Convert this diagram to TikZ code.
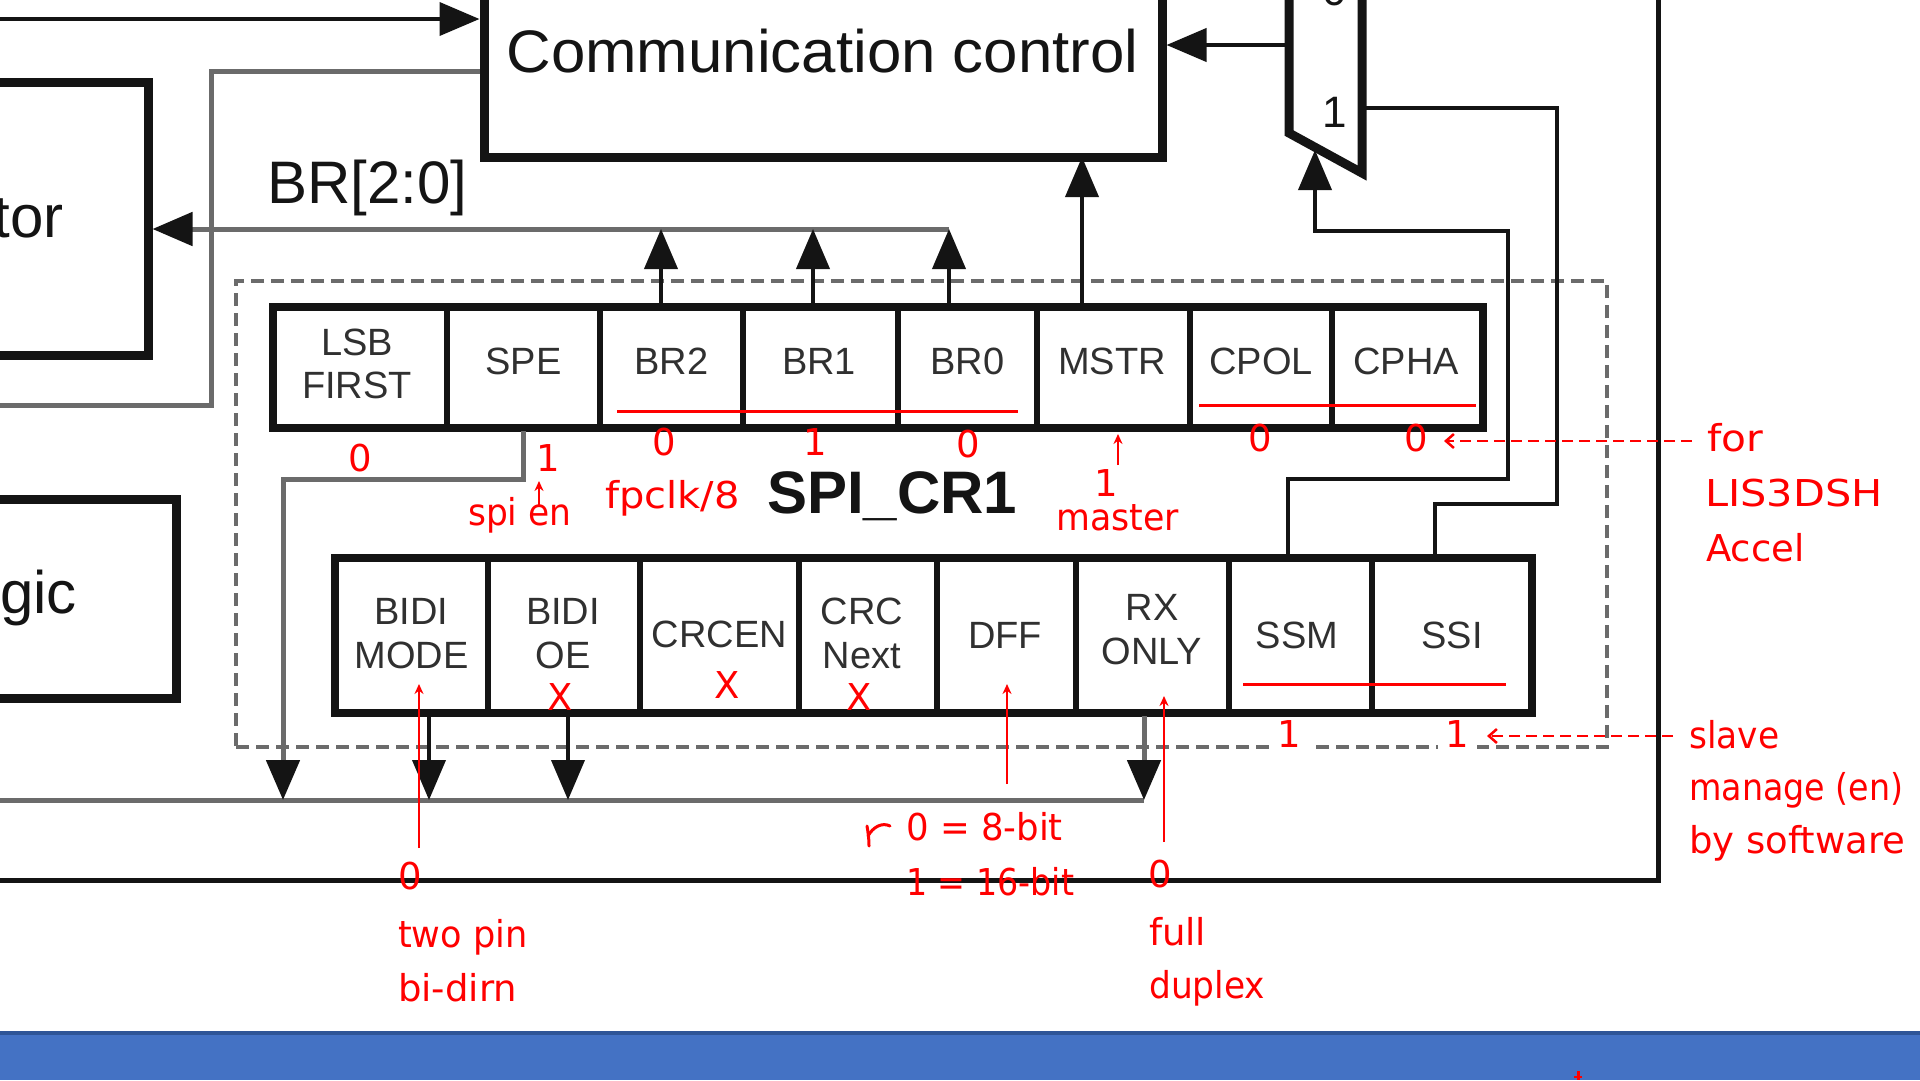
\documentclass[tikz,border=0pt]{standalone}
\usepackage{fontspec}
\setmainfont{Liberation Sans}
\newfontfamily\redfont{DejaVu Sans}
\usetikzlibrary{arrows.meta,calc}
\definecolor{lgray}{HTML}{6B6B6B}
\definecolor{ink}{HTML}{141414}
\definecolor{annot}{HTML}{FF0000}
\definecolor{barblue}{HTML}{4472C4}
\definecolor{barline}{HTML}{2F5597}
\newcommand\hsq[2]{\scalebox{#1}[1]{#2}}
\begin{document}
\begin{tikzpicture}[x=1pt,y=-1pt,
  blk/.style={draw=ink, line width=9pt, inner sep=0pt},
  wire/.style={draw=ink, line width=4pt},
  gwire/.style={draw=lgray, line width=5pt},
  tip/.style={-{Triangle[length=40pt,width=33pt]}},
  tipk/.style={-{Triangle[length=40pt,width=33pt,color=ink]}},
  cell/.style={draw=ink, line width=6pt, inner sep=0pt, minimum height=#1},
  lab/.style={font=\fontsize{38pt}{43.5pt}\selectfont, text=ink!88, align=center, inner sep=0pt},
  big/.style={font=\fontsize{60pt}{72pt}\selectfont, text=ink, inner sep=0pt},
  rtext/.style={font=\redfont\fontsize{37pt}{44pt}\selectfont, text=annot, inner sep=0pt},
  rline/.style={draw=annot, line width=3pt},
  rarrow/.style={draw=annot, line width=2.5pt, -{Stealth[length=10pt,width=9pt]}},
  rdash/.style={draw=annot, line width=2.5pt, dash pattern=on 11pt off 6pt, -{Straight Barb[length=8pt,width=14pt]}},
  dashbox/.style={draw=lgray, line width=4.5pt, dash pattern=on 13pt off 7pt, inner sep=0pt},
]
\useasboundingbox (0,0) rectangle (1920,1080);
\clip (0,0) rectangle (1920,1080);
\fill[white] (0,0) rectangle (1920,1080);

% ---------- blocks ----------
\node[blk, minimum width=678pt, minimum height=300pt] (cc) at (823,7) {};
\node[big] (cctext) at (822.5,51.5) {\scalebox{1.03}[1]{Communication control}};
\node[blk, minimum width=300pt, minimum height=273pt] (clkbox) at (-2,218.5) {};
\node[big, anchor=base east] (clktext) at (64,237) {tor};
\node[blk, minimum width=300pt, minimum height=199pt] (logbox) at (26,598.5) {};
\node[big, anchor=base east] (logtext) at (77,613) {gic};
\node[big, anchor=base west] (brtext) at (267,203) {BR[2:0]};

% dashed register frame
\node[dashbox, minimum width=1371pt, minimum height=466pt] (frame) at (921.5,514) {};

% ---------- register SPI_CR1 upper row ----------
\node[cell=121pt, minimum width=174pt] (c1) at (360,367.5) {};
\node[cell=121pt, minimum width=153pt] (c2) at (523.5,367.5) {};
\node[cell=121pt, minimum width=143pt] (c3) at (671.5,367.5) {};
\node[cell=121pt, minimum width=155pt] (c4) at (820.5,367.5) {};
\node[cell=121pt, minimum width=139pt] (c5) at (967.5,367.5) {};
\node[cell=121pt, minimum width=153pt] (c6) at (1113.5,367.5) {};
\node[cell=121pt, minimum width=142pt] (c7) at (1261,367.5) {};
\node[cell=121pt, minimum width=151pt] (c8) at (1407.5,367.5) {};
\node[draw=ink, line width=8pt, inner sep=0pt, minimum width=1210pt, minimum height=121pt] (reg1) at (878,367.5) {};
\node[lab] (l1) at (357,364) {LSB\\FIRST};
\node[lab] (l2) at (523.5,361) {SPE};
\node[lab] (l3) at (671.5,361) {BR2};
\node[lab] (l4) at (819,361) {BR1};
\node[lab] (l5) at (967.5,361) {BR0};
\node[lab] (l6) at (1112,361) {MSTR};
\node[lab] (l7) at (1261,361) {CPOL};
\node[lab] (l8) at (1406,361) {CPHA};

% ---------- lower row ----------
\node[cell=155pt, minimum width=153pt] (d1) at (411.5,635.5) {};
\node[cell=155pt, minimum width=152pt] (d2) at (564,635.5) {};
\node[cell=155pt, minimum width=159pt] (d3) at (719.5,635.5) {};
\node[cell=155pt, minimum width=138pt] (d4) at (868,635.5) {};
\node[cell=155pt, minimum width=139pt] (d5) at (1006.5,635.5) {};
\node[cell=155pt, minimum width=153pt] (d6) at (1152.5,635.5) {};
\node[cell=155pt, minimum width=143pt] (d7) at (1300.5,635.5) {};
\node[cell=155pt, minimum width=160pt] (d8) at (1452,635.5) {};
\node[draw=ink, line width=8pt, inner sep=0pt, minimum width=1197pt, minimum height=155pt] (reg2) at (933.5,635.5) {};
\node[lab] (m1) at (411.5,633.5) {BIDI\\MODE};
\node[lab] (m2) at (563,633.5) {BIDI\\OE};
\node[lab] (m3) at (719.5,634.5) {CRCEN};
\node[lab] (m4) at (862,633.5) {CRC\\Next};
\node[lab] (m5) at (1005,635) {DFF};
\node[lab] (m6) at (1152,629.5) {RX\\ONLY};
\node[lab] (m7) at (1297,635) {SSM};
\node[lab] (m8) at (1452,635) {SSI};

\node[font=\bfseries\fontsize{60pt}{72pt}\selectfont, text=ink, inner sep=0pt, anchor=base west] (title) at (767,513) {SPI\_CR1};

% ---------- top inputs ----------
\coordinate (topin) at (0,19);
\draw[wire,tip] (topin) -- (cc.west |- topin);
\coordinate (ccl) at (211,71);
\coordinate (ccl2) at (0,405);
\draw[gwire] (cc.west |- ccl) -- (ccl) |- (ccl2);

% ---------- BR bus ----------
\coordinate (j2) at (661,229);
\coordinate (j3) at (813,229);
\coordinate (j4) at (949,229);
\draw[gwire,tipk] (j4) -- (clkbox.east |- j4);
\draw[wire,tip] (j2 |- c3.north) -- (j2);
\draw[wire,tip] (j3 |- c4.north) -- (j3);
\draw[wire,tip] (j4 |- c5.north) -- (j4);

% ---------- MSTR ----------
\coordinate (mstr) at (1082,157);
\draw[wire,tip] (mstr |- c6.north) -- (mstr);

% ---------- mux ----------
\draw[blk, line join=miter] (1289,-20) -- (1289,133) -- (1362,173) -- (1362,-20);
\node[font=\fontsize{44pt}{50pt}\selectfont, text=ink, inner sep=0pt, anchor=base] (mux0) at (1335,5) {0};
\node[font=\fontsize{44pt}{50pt}\selectfont, text=ink, inner sep=0pt, anchor=base] (mux1) at (1335,127) {1};
\coordinate (muxout) at (1289,45);
\coordinate (muxin1) at (1362,108);
\coordinate (muxsel) at (1315,150);
\draw[wire,tip] (muxout) -- (cc.east |- muxout);
\coordinate (s1) at (1508,479);
\coordinate (s2) at (1315,231);
\coordinate (ssmx) at (1288,0);
\draw[wire,tip] (ssmx |- d7.north) |- (s1) |- (s2) -- (muxsel);
\coordinate (i1) at (1557,504);
\coordinate (ssix) at (1435,0);
\draw[wire] (ssix |- d8.north) |- (i1) |- (muxin1);

% ---------- outer frame ----------
\coordinate (fr1) at (1658,-10);
\coordinate (fr2) at (1658,880);
\coordinate (fr3) at (0,880);
\draw[draw=ink, line width=5pt] (fr1) -- (fr2) -- (fr3);

% ---------- lower bus ----------
\coordinate (bus0) at (0,800);
\coordinate (b1) at (283,800);
\coordinate (b2) at (429,800);
\coordinate (b3) at (568,800);
\coordinate (b4) at (1144,800);
\coordinate (spe1) at (283,479);
\draw[gwire] (bus0) -- (b4);
\draw[gwire,tipk] (c2.south) |- (spe1) -- (b1);
\draw[wire,tip] (b2 |- d1.south) -- (b2);
\draw[wire,tip] (b3 |- d2.south) -- (b3);
\draw[gwire,tipk] (b4 |- d6.south) -- (b4);

% ---------- red annotations ----------
\draw[rline] (617,411) -- (1018,411);
\draw[rline] (1199,405) -- (1476,405);
\draw[rline] (1243,684) -- (1506,684);

\node[rtext] (r1) at (360,458) {0};
\node[rtext] (r2) at (548,458) {1};
\node[rtext] (r3) at (664,442) {0};
\node[rtext] (r4) at (815,442) {1};
\node[rtext] (r5) at (968,444) {0};
\node[rtext] (r6) at (1106,483) {1};
\node[rtext] (r7) at (1260,438) {0};
\node[rtext] (r8) at (1416,438) {0};
\node[rtext] (r9) at (410,876) {0};
\node[rtext] (r10) at (1160,874) {0};
\node[rtext, fill=white, minimum width=40pt, minimum height=34pt] (r11) at (1289,734) {1};
\node[rtext, fill=white, minimum width=39pt, minimum height=34pt] (r12) at (1457.5,734) {1};

\node[rtext] (x1) at (560,697) {X};
\node[rtext] (x2) at (727,685) {X};
\node[rtext] (x3) at (859,697) {X};

\node[rtext, anchor=base west] (t1) at (468,525) {\hsq{0.93}{spi en}};
\node[rtext, anchor=base west] (t2) at (605,508) {\hsq{1.08}{fpclk/8}};
\node[rtext, anchor=base west] (t3) at (1056,530) {\hsq{0.94}{master}};
\node[rtext, anchor=base west] (t4) at (1707,451) {\hsq{1.1}{for}};
\node[rtext, anchor=base west] (t5) at (1705,506) {\hsq{1.12}{LIS3DSH}};
\node[rtext, anchor=base west] (t6) at (1706,561) {Accel};
\node[rtext, anchor=base west] (t7) at (398,947) {\hsq{0.95}{two pin}};
\node[rtext, anchor=base west] (t8) at (398,1001) {bi-dirn};
\node[rtext, anchor=base west] (t9) at (1149,945) {full};
\node[rtext, anchor=base west] (t10) at (1149,998) {\hsq{0.93}{duplex}};
\node[rtext, anchor=base west] (t11) at (906,840) {\hsq{0.96}{0 = 8-bit}};
\node[rtext, anchor=base west] (t12) at (906,895) {\hsq{0.9}{1 = 16-bit}};
\node[rtext, anchor=base west] (t13) at (1689,748) {\hsq{0.93}{slave}};
\node[rtext, anchor=base west] (t14) at (1689,800) {\hsq{0.9}{manage (en)}};
\node[rtext, anchor=base west] (t15) at (1689,853) {by software};

\coordinate (ra1s) at (1118,465); \coordinate (ra1e) at (1118,434);
\draw[rarrow] (ra1s) -- (ra1e);
\coordinate (ra2s) at (539,505); \coordinate (ra2e) at (539,481);
\draw[rarrow] (ra2s) -- (ra2e);
\coordinate (ra3s) at (419,848); \coordinate (ra3e) at (419,684);
\draw[rarrow] (ra3s) -- (ra3e);
\coordinate (ra4s) at (1007,784); \coordinate (ra4e) at (1007,684);
\draw[rarrow] (ra4s) -- (ra4e);
\coordinate (ra5s) at (1164,842); \coordinate (ra5e) at (1164,696);
\draw[rarrow] (ra5s) -- (ra5e);

\coordinate (rd1s) at (1692,441); \coordinate (rd1e) at (1444,441);
\draw[rdash] (rd1s) -- (rd1e);
\coordinate (rd2s) at (1673,736); \coordinate (rd2e) at (1487,736);
\draw[rdash] (rd2s) -- (rd2e);

% hand mark near 8-bit
\draw[draw=annot, line width=3pt, line cap=round] (869,846) .. controls (869,838) and (868,832) .. (867,826);
\draw[draw=annot, line width=3pt, line cap=round] (868,836) .. controls (873,827) and (882,822) .. (890,826);

% ---------- bottom bar ----------
\fill[barblue] (0,1031) rectangle (1920,1080);
\draw[barline, line width=4pt] (0,1033) -- (1920,1033);
\draw[draw=annot, line width=3pt] (1578,1071) -- (1578,1080);
\draw[draw=annot, line width=2.5pt] (1574,1077) -- (1582,1077);
\end{tikzpicture}
\end{document}
